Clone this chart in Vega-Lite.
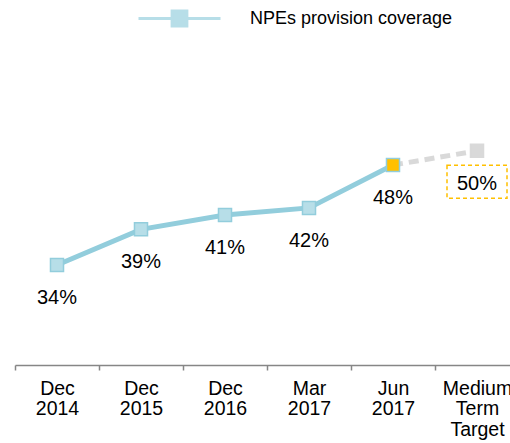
{
  "$schema": "https://vega.github.io/schema/vega-lite/v6.json",
  "autosize": "none",
  "width": 495,
  "height": 357,
  "padding": {"left": 15, "top": 8, "right": 0, "bottom": 78},
  "config": {"view": {"stroke": null}, "font": "Liberation Sans"},
  "data": {
    "values": [
      {"period": "Dec 2014", "value": 0.34, "series": "actual"},
      {"period": "Dec 2015", "value": 0.39, "series": "actual"},
      {"period": "Dec 2016", "value": 0.41, "series": "actual"},
      {"period": "Mar 2017", "value": 0.42, "series": "actual"},
      {"period": "Jun 2017", "value": 0.48, "series": "actual"},
      {"period": "Medium Term Target", "value": 0.50, "series": "target"}
    ]
  },
  "encoding": {
    "x": {
      "field": "period",
      "type": "ordinal",
      "bandPosition": 0.5,
      "scale": {
        "type": "band",
        "domain": ["Dec 2014", "Dec 2015", "Dec 2016", "Mar 2017", "Jun 2017", "Medium Term Target"],
        "paddingInner": 0,
        "paddingOuter": 0,
        "range": [0, 504]
      },
      "axis": {
        "title": null,
        "labelAngle": 0,
        "tickBand": "extent",
        "domainColor": "#868686",
        "domainWidth": 1.5,
        "tickColor": "#868686",
        "tickWidth": 1.5,
        "tickSize": 5,
        "labelPadding": 9,
        "labelFont": "Liberation Sans",
        "labelFontSize": 19.5,
        "labelFontWeight": "normal",
        "labelColor": "#000000",
        "labelLineHeight": 20.5,
        "labelBaseline": "top",
        "labelExpr": "split(datum.label, ' ')",
        "labelOverlap": false
      }
    },
    "y": {
      "field": "value",
      "type": "quantitative",
      "scale": {"domain": [0.2, 0.7], "nice": false, "zero": false},
      "axis": null
    }
  },
  "layer": [
    {
      "transform": [{"filter": "datum.period == 'Jun 2017' || datum.series == 'target'"}],
      "mark": {"type": "line", "stroke": "#D9D9D9", "strokeWidth": 5, "strokeDash": [10, 6]}
    },
    {
      "transform": [{"filter": "datum.series == 'actual'"}],
      "mark": {"type": "line", "strokeWidth": 5, "stroke": "#92CDDC"}
    },
    {
      "transform": [{"filter": "datum.period == 'Dec 2014'"}],
      "mark": {"type": "line", "strokeWidth": 3, "strokeCap": "butt"},
      "encoding": {
        "color": {
          "datum": "NPEs provision coverage",
          "scale": {"range": ["#B7DEE8"]},
          "legend": {
            "orient": "none",
            "legendX": 122,
            "legendY": -32,
            "title": null,
            "symbolType": "M-1,0H1M-0.18,-0.18H0.18V0.18H-0.18Z",
            "symbolSize": 6724,
            "symbolStrokeWidth": 3,
            "symbolStrokeColor": "#B7DEE8",
            "symbolFillColor": "#B7DEE8",
            "labelFontSize": 18,
            "labelFont": "Liberation Sans",
            "labelColor": "#000000",
            "labelOffset": 28,
            "labelLimit": 400,
            "encode": {
              "symbols": {
                "update": {
                  "fill": {"value": "#B7DEE8"},
                  "strokeWidth": {"value": 3},
                  "opacity": {"value": 1}
                }
              }
            }
          }
        }
      }
    },
    {
      "mark": {"type": "point", "shape": "square", "filled": true, "size": 170, "strokeWidth": 1.5, "opacity": 1},
      "encoding": {
        "fill": {
          "condition": [
            {"test": "datum.period == 'Jun 2017'", "value": "#FFC000"},
            {"test": "datum.series == 'target'", "value": "#D9D9D9"}
          ],
          "value": "#B7DEE8"
        },
        "stroke": {
          "condition": {"test": "datum.series == 'target'", "value": "#D9D9D9"},
          "value": "#92CDDC"
        }
      }
    },
    {
      "transform": [{"filter": "datum.series == 'target'"}],
      "mark": {
        "type": "point",
        "shape": "M-1,-0.55H1V0.55H-1Z",
        "size": 3600,
        "filled": false,
        "stroke": "#FFC000",
        "strokeWidth": 1.5,
        "strokeDash": [4, 3],
        "yOffset": 31,
        "opacity": 1
      }
    },
    {
      "mark": {"type": "text", "dy": 33, "fontSize": 20, "font": "Liberation Sans", "color": "#000000", "baseline": "middle"},
      "encoding": {"text": {"field": "value", "type": "quantitative", "format": ".0%"}}
    }
  ]
}
